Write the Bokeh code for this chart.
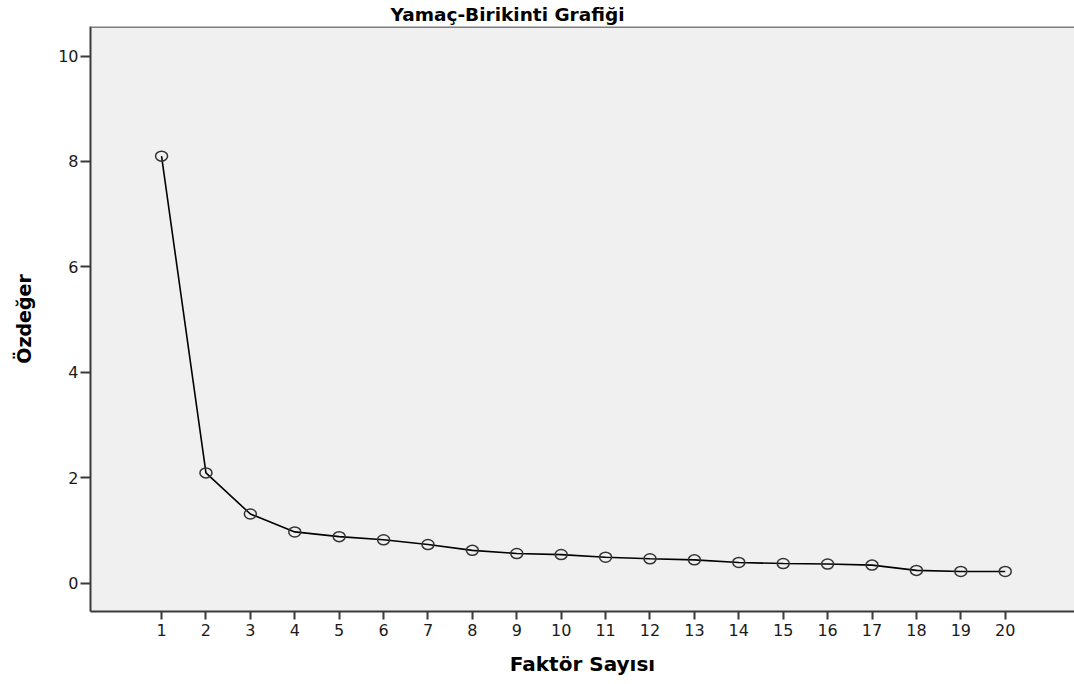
from bokeh.plotting import figure
from bokeh.models import Range1d, FixedTicker, Title, ColumnDataSource, Span
from bokeh.embed import file_html
from bokeh.resources import INLINE

# Data
factors = [1, 2, 3, 4, 5, 6, 7, 8, 9, 10, 11, 12, 13, 14, 15, 16, 17, 18, 19, 20]
eigenvalues = [8.10, 2.09, 1.31, 0.97, 0.88, 0.82, 0.73, 0.62, 0.56, 0.54,
               0.49, 0.46, 0.44, 0.39, 0.37, 0.36, 0.34, 0.24, 0.22, 0.22]
y_ticks = [0, 2, 4, 6, 8, 10]
title_text = "Yamaç-Birikinti Grafiği"
x_label = "Faktör Sayısı"
y_label = "Özdeğer"

src = ColumnDataSource(dict(x=factors, y=eigenvalues))

y_rng = Range1d(-0.54, 10.56)
p = figure(width=1074, height=684, output_backend="svg", toolbar_location=None,
           x_range=Range1d(-0.6, 21.56), y_range=y_rng,
           min_border_left=90, min_border_right=0, min_border_top=26,
           min_border_bottom=73)

p.title = Title(text=title_text, text_font="DejaVu Sans", text_font_size="18.5px",
                text_font_style="bold", text_color="#000000", align="left",
                offset=300, standoff=3)

p.background_fill_color = "#f0f0f0"
p.border_fill_color = "#ffffff"
p.outline_line_color = None
p.xgrid.visible = False
p.ygrid.visible = False

# top frame border (the right side runs past the picture's edge)
p.add_layout(Span(location=y_rng.end - 0.01, dimension="width",
                  line_color="#7f7f7f", line_width=2))

p.xaxis.ticker = FixedTicker(ticks=factors)
p.yaxis.ticker = FixedTicker(ticks=y_ticks)
for ax in (p.xaxis, p.yaxis):
    ax.axis_line_color = "#3a3a3a"
    ax.axis_line_width = 2
    ax.major_tick_line_color = "#3a3a3a"
    ax.major_tick_line_width = 2
    ax.major_tick_in = 0
    ax.minor_tick_line_color = None
    ax.major_label_text_font = "DejaVu Sans"
    ax.major_label_text_font_size = "16px"
    ax.major_label_text_color = "#1a1a1a"
    ax.axis_label_text_font = "DejaVu Sans"
    ax.axis_label_text_font_style = "bold"
    ax.axis_label_text_color = "#000000"

p.xaxis.major_tick_out = 8
p.xaxis.major_label_standoff = 4
p.xaxis.axis_label = x_label
p.xaxis.axis_label_text_font_size = "20px"
p.xaxis.axis_label_standoff = 13

p.yaxis.major_tick_out = 10
p.yaxis.major_label_standoff = 2
p.yaxis.axis_label = y_label
p.yaxis.axis_label_text_font_size = "19px"
p.yaxis.axis_label_standoff = 20

p.line("x", "y", source=src, line_color="#000000", line_width=1.6)
p.ellipse("x", "y", width=12, height=10, width_units="screen", height_units="screen",
          source=src, fill_color=None, line_color="#333333", line_width=1.5)

open("out.html", "w").write(file_html(p, INLINE))
